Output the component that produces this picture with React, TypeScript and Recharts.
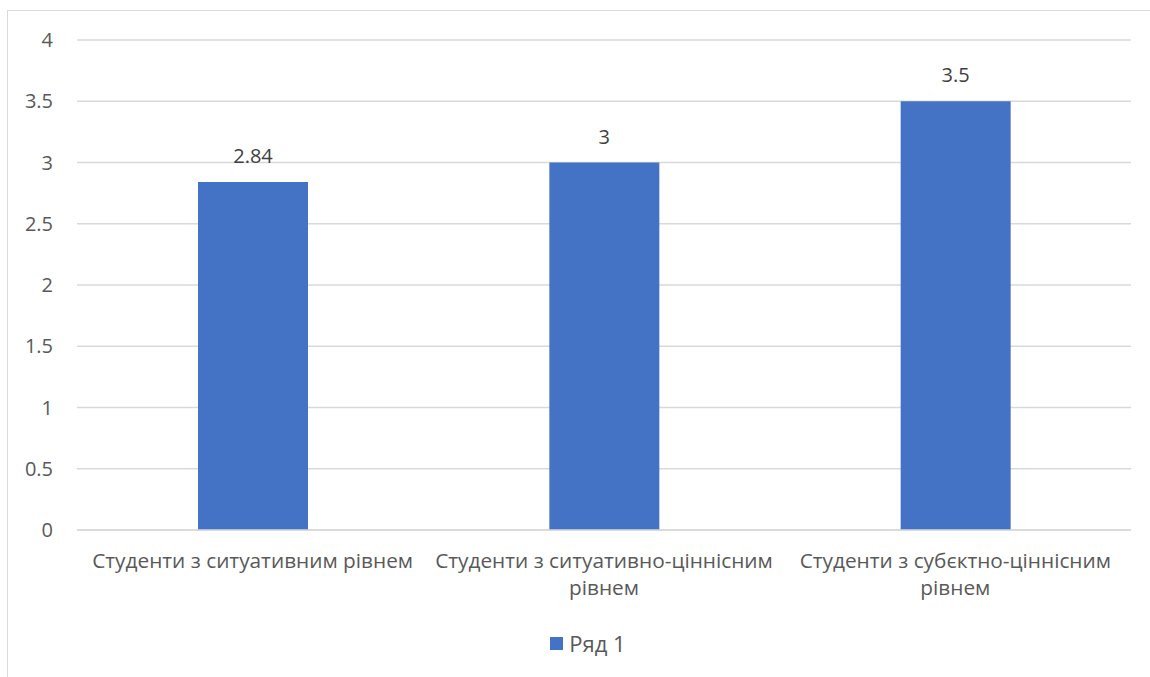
import React from 'react';
import { BarChart, Bar, XAxis, YAxis, CartesianGrid, LabelList, Legend } from 'recharts';

const categories = [
  'Студенти з ситуативним рівнем',
  'Студенти з ситуативно-ціннісним рівнем',
  'Студенти з субєктно-ціннісним рівнем',
];
const categoryLines = [
  ['Студенти з ситуативним рівнем'],
  ['Студенти з ситуативно-ціннісним', 'рівнем'],
  ['Студенти з субєктно-ціннісним', 'рівнем'],
];
const series1 = [2.84, 3, 3.5];
const yTicks = [0, 0.5, 1, 1.5, 2, 2.5, 3, 3.5, 4];
const seriesName = 'Ряд 1';

const data = categories.map((c, i) => ({ name: c, idx: i, value: series1[i] }));

const FONT = '"Open Sans", "Noto Sans", sans-serif';
const TEXT = '#595959';
const FS = 20;
const FSX = 20.8;

const XTick = (props: any) => {
  const { x, y, index } = props;
  const lines = categoryLines[index] || [];
  return (
    <g>
      {lines.map((l: string, i: number) => (
        <text key={i} x={x} y={y + 30 + i * 27} textAnchor="middle" fill={TEXT} fontSize={FSX} fontFamily={FONT}>
          {l}
        </text>
      ))}
    </g>
  );
};

const LegendContent = () => (
  <div style={{ display: 'flex', justifyContent: 'center', alignItems: 'center', fontFamily: FONT, fontSize: 22, color: TEXT, height: 24, paddingLeft: 26 }}>
    <div style={{ width: 13, height: 13, background: '#4472C4', marginRight: 6 }} />
    <span>{seriesName}</span>
  </div>
);

export default function App() {
  return (
    <div style={{ position: 'absolute', left: 0, top: 0, width: 1150, height: 677, overflow: 'hidden', background: '#fff' }}>
      <div style={{ position: 'absolute', left: 7, top: 10, width: 1200, height: 800, border: '1px solid #d9d9d9', boxSizing: 'border-box' }} />
      <div style={{ position: 'absolute', left: 0, top: 0 }}>
        <BarChart width={1150} height={677} data={data} margin={{ top: 40, right: 19, left: 0, bottom: 0 }}>
          <CartesianGrid vertical={false} stroke="#d9d9d9" strokeWidth={1.5} />
          <XAxis
            dataKey="name"
            tick={<XTick />}
            tickLine={false}
            axisLine={{ stroke: '#d9d9d9', strokeWidth: 1.5 }}
            height={123}
            interval={0}
          />
          <YAxis
            domain={[0, 4]}
            ticks={yTicks}
            width={77}
            tickLine={false}
            axisLine={false}
            tickSize={0}
            tickMargin={24}
            tick={{ fill: TEXT, fontSize: FS, fontFamily: FONT }}
          />
          <Legend content={<LegendContent />} wrapperStyle={{ position: 'absolute', top: 631, left: 0, width: 1150, height: 24 }} />
          <Bar dataKey="value" name={seriesName} fill="#4472C4" barSize={110} isAnimationActive={false}>
            <LabelList dataKey="value" position="top" offset={19} fill="#404040" fontSize={FS} fontFamily={FONT} />
          </Bar>
        </BarChart>
      </div>
    </div>
  );
}
